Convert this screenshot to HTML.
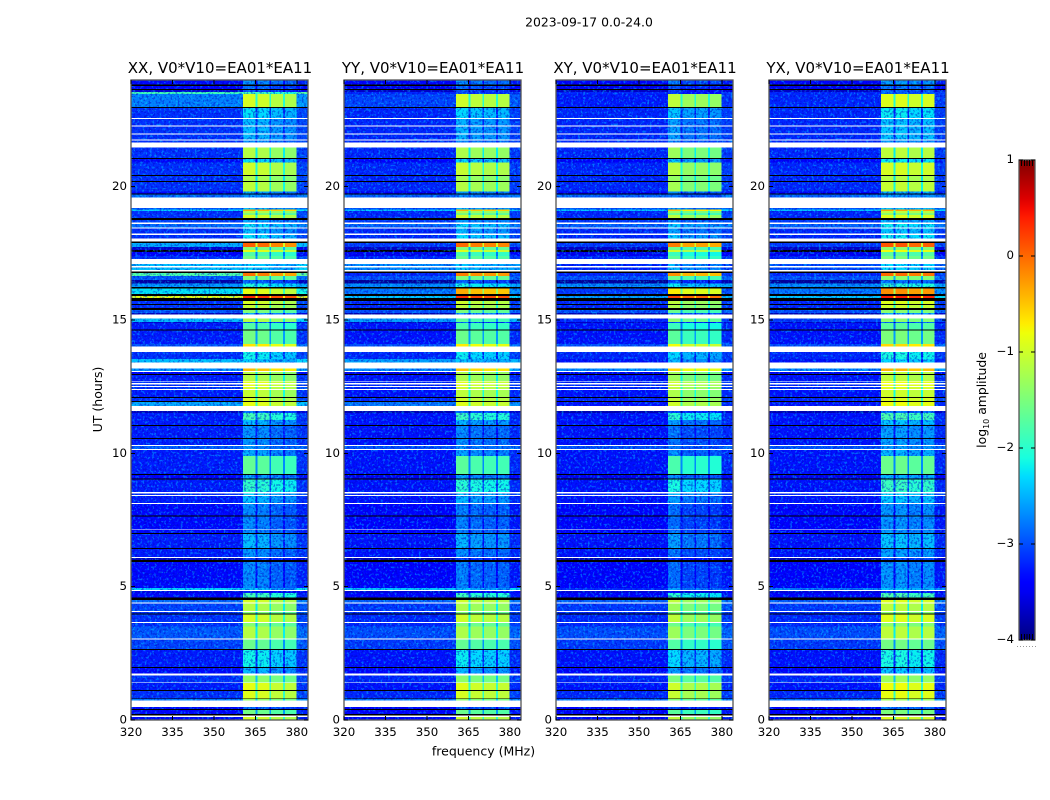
<!DOCTYPE html>
<html lang="en">
<head>
<meta charset="utf-8">
<title>2023-09-17 0.0-24.0</title>
<style>
html,body{margin:0;padding:0;background:#fff;width:1050px;height:800px;overflow:hidden}
svg{display:block}
text{font-family:"DejaVu Sans","Liberation Sans",sans-serif;fill:#000}
</style>
</head>
<body>
<svg id="figure" xmlns="http://www.w3.org/2000/svg" width="1050" height="800" viewBox="0 0 1050 800">
  <defs id="defs">
    <filter id="speckle-light" x="0" y="0" width="100%" height="100%">
      <feTurbulence type="fractalNoise" baseFrequency="0.42" numOctaves="2" seed="4"/>
      <feColorMatrix type="matrix" values="0 0 0 0 0  0 0 0 0 0.75  0 0 0 0 1  0 0 0 7 -3.8"/>
    </filter>
    <filter id="speckle-dark" x="0" y="0" width="100%" height="100%">
      <feTurbulence type="fractalNoise" baseFrequency="0.45" numOctaves="2" seed="11"/>
      <feColorMatrix type="matrix" values="0 0 0 0 0  0 0 0 0 0  0 0 0 0 0.55  0 0 0 7 -3.6"/>
    </filter>
    <linearGradient id="jet-gradient" x1="0" y1="1" x2="0" y2="0"></linearGradient>
  </defs>
  <text x="589" y="26.5" font-size="12.4" text-anchor="middle">2023-09-17 0.0-24.0</text>
  <text x="0" y="0" font-size="12.5" text-anchor="middle" transform="translate(102,399.5) rotate(-90)">UT (hours)</text>
  <text x="483.5" y="755.5" font-size="12.5" text-anchor="middle">frequency (MHz)</text>
  <text x="0" y="0" font-size="12.4" text-anchor="middle" transform="translate(986,400) rotate(-90)">log<tspan font-size="8" dy="3">10</tspan><tspan dy="-3"> amplitude</tspan></text>
</svg>
<script>
const K = -9;
const W = null;

const utEdges = [
  24,23.83,23.78,23.66,23.63,23.55,23.48,22.99,22.95,22.58,
  22.54,22.29,22.26,21.99,21.96,21.77,21.73,21.66,21.47,21.08,
  21.04,20.91,20.44,20.4,20.21,20.18,19.82,19.74,19.7,19.59,
  19.2,19.15,19.09,19.01,18.94,18.83,18.75,18.65,18.6,18.47,
  18.44,18.24,18.19,18.06,17.94,17.89,17.73,17.63,17.55,17.4,
  17.29,17.1,17.03,16.97,16.88,16.81,16.76,16.65,16.5,16.37,
  16.24,16.18,15.98,15.9,15.83,15.72,15.6,15.56,15.45,15.38,
  15.27,15.21,15.06,14.93,14.88,14.65,14.61,14.1,14,13.8,
  13.53,13.4,13.19,13.09,13.05,12.98,12.94,12.72,12.69,12.63,
  12.59,12.53,12.49,12.41,12.38,12.12,12.08,11.96,11.93,11.78,
  11.59,11.52,11.25,11.06,11.03,10.58,10.54,10.31,10.28,10.16,
  10.13,9.9,9.23,9.19,9.05,9.01,8.55,8.5,8.44,8.4,
  8.14,8.1,7.67,7.63,7.17,7.14,7.01,6.98,6.45,6.41,
  6.11,6.08,6,5.93,4.95,4.88,4.84,4.76,4.6,4.5,
  4.4,4.36,4.09,4.05,3.99,3.95,3.68,3.63,3.5,3.05,
  3.01,2.66,2.63,1.99,1.95,1.75,1.67,1.41,1.38,1.13,
  1.09,0.81,0.78,0.74,0.48,0.41,0.38,0.23,0.16,0.12,
  0
];
const backgroundLevel = [
  -3.2,K,-3.3,K,-3.5,-1.7,-2.6,K,-3,W,
  -3,W,-3,W,-3,W,-3,W,-3,K,
  -3.2,-3,K,-3,K,-3,-3.2,K,-2.7,W,
  -2.8,-2.2,-3,-3,-3,K,-2.9,W,-2.7,W,
  -3,W,-3,W,K,-2.4,-3.5,K,-3.3,-3,
  W,-2.3,W,-2.3,W,K,-1.6,-2.8,-3.7,-2.5,
  K,-2.1,K,-0.7,K,-3,K,-3,K,-2.8,
  -3.6,W,-2.3,-3.5,-3.1,K,-3.1,-2.8,W,-3,
  -2.3,W,-2.5,W,-3.3,K,-3.1,W,-3,W,
  -3,W,-3,W,-3.1,K,-3,K,-2.4,W,
  -3.6,-3.1,-3.1,K,-3.1,K,-3.1,W,-2.8,W,
  -3.1,-3.1,K,-3.3,K,-3.1,W,-3,W,-3.1,
  W,-3.2,K,-3.2,W,-3.2,K,-3.1,K,-3.1,
  W,-3.6,K,-3.2,-2.2,W,-3.4,-3.2,K,-2.7,
  W,-2.9,W,-3,K,-3,W,-3,-2.8,W,
  -2.9,K,-3.1,K,-3.2,W,-3,W,-3.1,K,
  -3,K,-2.6,W,-3.2,K,-3.2,K,W,-3.2
];
const bandLevel = [
  -2.7,K,-2.9,K,-3,-1.9,-1,K,-2.3,W,
  -2.5,W,-2.5,W,-2.5,W,-2.7,W,-1.2,K,
  -2.3,-1.05,K,-1.25,K,-1.15,-2.6,K,-2.7,W,
  -2.5,-0.4,-1.2,-1.5,-1,K,-2.6,W,-2.3,W,
  -2.5,W,-2.3,W,K,0,-1.5,-0.9,-1.8,-1.6,
  W,-2.4,W,-2.4,W,K,-0.1,-1.5,-2.9,-2.1,
  K,-0.9,K,0.3,K,-1,K,-1.1,K,-1.5,
  -2.6,W,-1.2,-2.9,-1.8,K,-1.6,-0.7,W,-2.2,
  -2.4,W,-0.5,W,-1.2,K,-1.2,W,-0.9,W,
  -0.9,W,-1,W,-1.1,K,-1,K,-0.9,W,
  -2.9,-1.9,-2.5,K,-2.7,K,-2.7,W,-2.7,W,
  -2.6,-1.7,K,-2.6,K,-2,W,-2.4,W,-2.5,
  W,-2.75,K,-2.75,W,-2.75,K,-2.5,K,-2.7,
  W,-3.1,K,-2.75,-2.5,W,-3.3,-1.9,K,-1,
  W,-1.2,W,-1.5,K,-1,W,-1.5,-1.2,W,
  -1.65,K,-2.2,K,-2.5,W,-1.4,W,-0.9,K,
  -0.95,K,-1.4,W,-2.9,K,-1.6,K,W,-1
];

const backgroundOverrideRows = [5,6,45,51,53,56,61,63,72,80,98,134];
const backgroundOverrideYY = [-3,-2.85,-2.9,-2.5,-2.5,-3,-2.6,-2.2,-2.4,-2.4,-2.6,-2.2];
const backgroundOverrideXY = [-3,-3.05,-2.9,-3,-3,-3,-2.9,-2.4,-3,-3.1,-3.1,-3];
const backgroundOverrideYX = [-3,-3,-2.9,-2.8,-2.8,-3,-2.6,-2.2,-2.9,-3.1,-3.1,-2.6];
const bandOverrideRows = [5,61,72];
const bandOverrideYY = [-3,-0.35,-1.7];
const bandOverrideXY = [-3,-0.6,-1.3];
const bandOverrideYX = [-3,-0.3,-1.5];

const freqEdges = [320,360.5,365.1,365.8,370,370.7,375,375.7,379.9,384];
const panelTitles = ['XX, V0*V10=EA01*EA11','YY, V0*V10=EA01*EA11','XY, V0*V10=EA01*EA11','YX, V0*V10=EA01*EA11'];
const panelIds = ['xx','yy','xy','yx'];
const blockOffsetXX = [0.05,0,-0.15,-0.2];
const blockOffsetYY = [0,-0.1,-0.15,-0.15];
const blockOffsetXY = [-0.1,-0.3,-0.3,-0.35];
const blockOffsetYX = [0.1,0.1,0,0.05];
const backgroundOffset = [-0.15,-0.2,-0.2,-0.2];
const freqTicks = [320,335,350,365,380];
const utTicks = [0,5,10,15,20];
const colorbarTicks = [1,0,-1,-2,-3,-4];

const blockOffsets = [blockOffsetXX,blockOffsetYY,blockOffsetXY,blockOffsetYX];
const bgOverrides = [null,backgroundOverrideYY,backgroundOverrideXY,backgroundOverrideYX];
const bandOverrides = [null,bandOverrideYY,bandOverrideXY,bandOverrideYX];
const svgNS = 'http://www.w3.org/2000/svg';
const figure = document.getElementById('figure');
const defs = document.getElementById('defs');
const panelLefts = [131,344,556,769];
const plotTop = 80, plotBottom = 720, plotWidth = 177;
const barLeft = 1019, barRight = 1035, barTop = 160, barBottom = 640;

function xScale(left, f){ return left + (f-320)*plotWidth/64; }
function yScale(h){ return plotBottom - h*(plotBottom-plotTop)/24; }
function barScale(v){ return barBottom - (v+4)*(barBottom-barTop)/5; }

function seg(t, pts){
  for(let i=1;i<pts.length;i++){
    if(t<=pts[i][0]){
      const a=pts[i-1], b=pts[i];
      return a[1]+(b[1]-a[1])*(t-a[0])/(b[0]-a[0]);
    }
  }
  return pts[pts.length-1][1];
}
function jet(v){
  if(v===K) return '#000';
  const t=Math.max(0,Math.min(1,(v+4)/5));
  const r=seg(t,[[0,0],[0.35,0],[0.66,1],[0.89,1],[1,0.5]]);
  const g=seg(t,[[0,0],[0.125,0],[0.375,1],[0.64,1],[0.91,0],[1,0]]);
  const b=seg(t,[[0,0.5],[0.11,1],[0.34,1],[0.65,0],[1,0]]);
  return 'rgb('+Math.round(r*255)+','+Math.round(g*255)+','+Math.round(b*255)+')';
}
function rowBackground(row, panel){
  const table=bgOverrides[panel];
  const i=backgroundOverrideRows.indexOf(row);
  return (table && i>=0) ? table[i] : backgroundLevel[row];
}
function rowBand(row, panel){
  const table=bandOverrides[panel];
  const i=bandOverrideRows.indexOf(row);
  return (table && i>=0) ? table[i] : bandLevel[row];
}
function cellLevel(col, row, panel){
  const bg=rowBackground(row,panel), band=rowBand(row,panel);
  const off=backgroundOffset[panel];
  if(col===0) return bg===K?K:bg+off;
  if(col===9-1) return bg===K?K:bg+off+0.12;
  if(col%2===1) return band+blockOffsets[panel][(col-1)/2];
  return Math.max(bg===K?-3.5:bg+off, band-1);
}
function addRect(parent,x,y,w,h,fill,name){
  const el=document.createElementNS(svgNS,'rect');
  el.setAttribute('x',x);
  el.setAttribute('y',y);
  el.setAttribute('width',w);
  el.setAttribute('height',h);
  el.setAttribute('fill',fill);
  el.setAttribute('shape-rendering','crispEdges');
  
  
  parent.appendChild(el);
  return el;
}
function addText(parent,x,y,str,anchor,name){
  const el=document.createElementNS(svgNS,'text');
  el.setAttribute('x',x);
  el.setAttribute('y',y);
  el.setAttribute('font-size','11.8');
  el.setAttribute('text-anchor',anchor);
  
  
  el.textContent=str;
  parent.appendChild(el);
  return el;
}
function addGroup(parent,name){
  const el=document.createElementNS(svgNS,'g');
  
  
  parent.appendChild(el);
  return el;
}

panelTitles.forEach(function(title,p){
  const left=panelLefts[p], id=panelIds[p];
  const g=addGroup(figure,'panel-'+id);
  const cells=addGroup(g,'heatmap-'+id);

  const clip=document.createElementNS(svgNS,'clipPath');
  clip.setAttribute('id','noise-clip-'+id);
  defs.appendChild(clip);
  const bandStart=xScale(left,freqEdges[1]), bandEnd=xScale(left,freqEdges[8]);
  addRect(clip,left,plotTop,bandStart-left,plotBottom-plotTop,'#000','noise-region-left');
  addRect(clip,bandEnd,plotTop,left+plotWidth-bandEnd,plotBottom-plotTop,'#000','noise-region-right');

  for(let r=0;r<backgroundLevel.length;r++){
    const y0=yScale(utEdges[r]), y1=yScale(utEdges[r+1]);
    const bg=rowBackground(r,p), band=rowBand(r,p);
    if(bg===W||(bg===K&&band===K)) continue;
    for(let c=0;c<freqEdges.length-1;c++){
      const x0=xScale(left,freqEdges[c]), x1=xScale(left,freqEdges[c+1]);
      addRect(cells,x0,y0,x1-x0,y1-y0,jet(cellLevel(c,r,p)),'cell-'+id);
    }
    if(band<-1.8){
      addRect(clip,bandStart,y0,bandEnd-bandStart,y1-y0,'#000','noise-region-row');
    }
  }
  const speckleA=addRect(g,left,plotTop,plotWidth,plotBottom-plotTop,'#000','speckle-light-'+id);
  speckleA.setAttribute('filter','url(#speckle-light)');
  speckleA.setAttribute('clip-path','url(#noise-clip-'+id+')');
  speckleA.setAttribute('opacity','0.4');
  const speckleB=addRect(g,left,plotTop,plotWidth,plotBottom-plotTop,'#000','speckle-dark-'+id);
  speckleB.setAttribute('filter','url(#speckle-dark)');
  speckleB.setAttribute('clip-path','url(#noise-clip-'+id+')');
  speckleB.setAttribute('opacity','0.45');

  const flags=addGroup(g,'flagged-rows-'+id);
  for(let r=0;r<backgroundLevel.length;r++){
    const y0=yScale(utEdges[r]), y1=yScale(utEdges[r+1]);
    const bg=rowBackground(r,p), band=rowBand(r,p);
    if(bg===W){
      addRect(flags,left,y0,plotWidth,y1-y0,'#fff','flagged-row-white');
    } else if(bg===K&&band===K){
      addRect(flags,left,y0,plotWidth,y1-y0,'#000','flagged-row-black');
    }
  }
  const frame=document.createElementNS(svgNS,'rect');
  frame.setAttribute('x',left);
  frame.setAttribute('y',plotTop);
  frame.setAttribute('width',plotWidth);
  frame.setAttribute('height',plotBottom-plotTop);
  frame.setAttribute('fill','none');
  frame.setAttribute('stroke','#555');
  frame.setAttribute('stroke-width','1.3');
  
  
  g.appendChild(frame);
  freqTicks.forEach(function(f){
    const x=xScale(left,f);
    addRect(g,x-0.5,plotBottom-4,1,4,'#000','x-tick-bottom');
    addRect(g,x-0.5,plotTop,1,4,'#000','x-tick-top');
    addText(g,x,736,String(f),'middle','x-tick-label');
  });
  utTicks.forEach(function(h){
    const y=yScale(h);
    addRect(g,left,y-0.5,4,1,'#000','y-tick-left');
    addRect(g,left+plotWidth-4,y-0.5,4,1,'#000','y-tick-right');
    addText(g,left-4,y+3.5,String(h),'end','y-tick-label');
  });
  const t=addText(g,left+plotWidth/2+0.5,73,title,'middle','panel-title-'+id);
  t.setAttribute('font-size','15');
});

const grad=document.getElementById('jet-gradient');
for(let i=0;i<=50;i++){
  const s=document.createElementNS(svgNS,'stop');
  s.setAttribute('offset',(i/50));
  s.setAttribute('stop-color',jet(-4+i/10));
  grad.appendChild(s);
}
const bar=addGroup(figure,'colorbar');
addRect(bar,barLeft,barTop,barRight-barLeft,barBottom-barTop,'url(#jet-gradient)','colorbar-gradient');
const barFrame=document.createElementNS(svgNS,'rect');
barFrame.setAttribute('x',barLeft);
barFrame.setAttribute('y',barTop);
barFrame.setAttribute('width',barRight-barLeft);
barFrame.setAttribute('height',barBottom-barTop);
barFrame.setAttribute('fill','none');
barFrame.setAttribute('stroke','#555');
barFrame.setAttribute('stroke-width','1.3');


bar.appendChild(barFrame);
colorbarTicks.forEach(function(v){
  const y=barScale(v);
  addRect(bar,barLeft,y-0.5,4,1,'#000','colorbar-tick-left');
  addRect(bar,barRight-4,y-0.5,4,1,'#000','colorbar-tick-right');
  addText(bar,barLeft-5,y+3,String(v).replace('-','\u2212'),'end','colorbar-tick-label');
});
for(let i=1;i<=5;i++){
  const x=barLeft+i*(barRight-barLeft)/6;
  addRect(bar,x-0.5,barTop,1,6,'#000','colorbar-minor-tick-top');
  addRect(bar,x-0.5,barBottom-6,1,6,'#000','colorbar-minor-tick-bottom');
}
for(let i=0;i<7;i++){
  addRect(bar,barLeft-2+i*3,646,1,1,'#999','colorbar-minor-label-dot');
}
</script>
</body>
</html>
